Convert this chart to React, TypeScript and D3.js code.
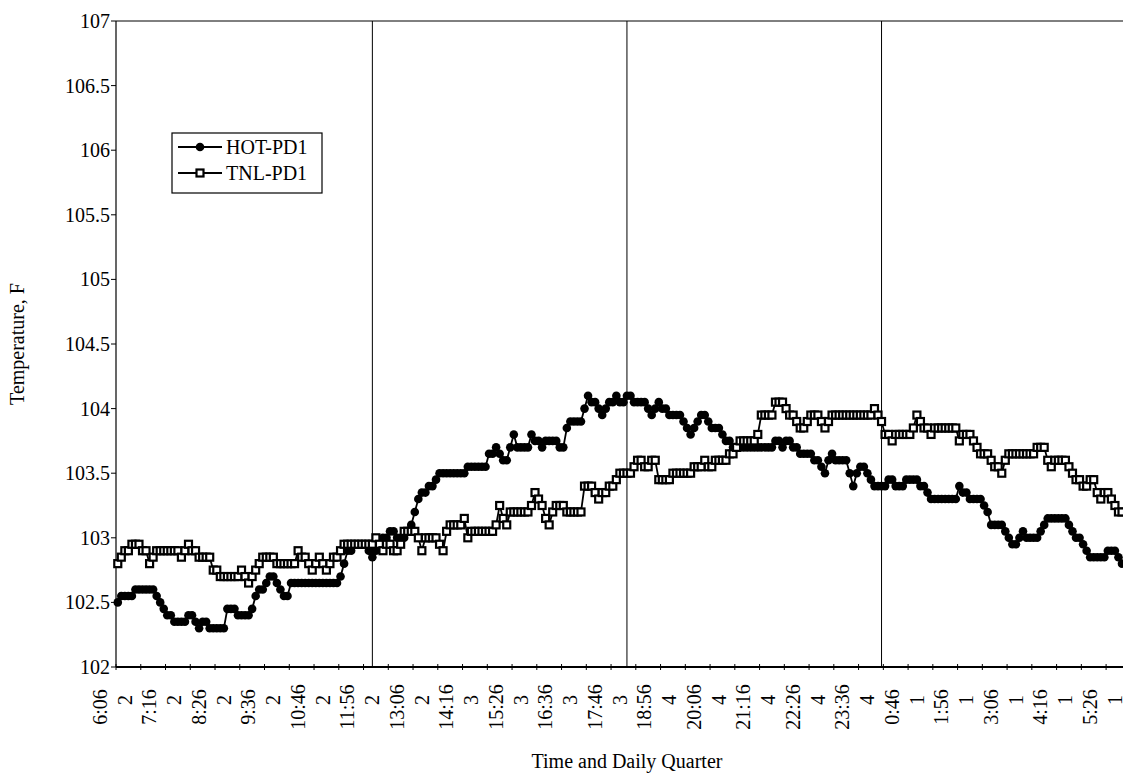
import * as d3 from 'd3'

// category axis: one point every 5 minutes, every 7th category labelled
const tickLabels = [
  '6:06', '2', '7:16', '2', '8:26', '2', '9:36', '2', '10:46', '2', '11:56', '2',
  '13:06', '2', '14:16', '3', '15:26', '3', '16:36', '3', '17:46', '3', '18:56', '4',
  '20:06', '4', '21:16', '4', '22:26', '4', '23:36', '4', '0:46', '1', '1:56', '1',
  '3:06', '1', '4:16', '1', '5:26', '1',
]
const labelStep = 7
const categoryCount = 288
const quarterBreaks = [72, 144, 216]
const yTicks = [102, 102.5, 103, 103.5, 104, 104.5, 105, 105.5, 106, 106.5, 107]

// values (visible part of the chart)
const hotPD1 = [
  102.5, 102.55, 102.55, 102.55, 102.55, 102.6, 102.6, 102.6, 102.6, 102.6,
  102.6, 102.55, 102.5, 102.45, 102.4, 102.4, 102.35, 102.35, 102.35, 102.35,
  102.4, 102.4, 102.35, 102.3, 102.35, 102.35, 102.3, 102.3, 102.3, 102.3,
  102.3, 102.45, 102.45, 102.45, 102.4, 102.4, 102.4, 102.4, 102.45, 102.55,
  102.6, 102.6, 102.65, 102.7, 102.7, 102.65, 102.6, 102.55, 102.55, 102.65,
  102.65, 102.65, 102.65, 102.65, 102.65, 102.65, 102.65, 102.65, 102.65, 102.65,
  102.65, 102.65, 102.65, 102.7, 102.8, 102.9, 102.9, 102.95, 102.95, 102.95,
  102.95, 102.9, 102.85, 102.9, 102.95, 103.0, 103.0, 103.05, 103.05, 103.0,
  103.0, 103.0, 103.05, 103.1, 103.2, 103.3, 103.35, 103.35, 103.4, 103.4,
  103.45, 103.5, 103.5, 103.5, 103.5, 103.5, 103.5, 103.5, 103.5, 103.55,
  103.55, 103.55, 103.55, 103.55, 103.55, 103.65, 103.65, 103.7, 103.65, 103.6,
  103.6, 103.7, 103.8, 103.7, 103.7, 103.7, 103.7, 103.8, 103.75, 103.75,
  103.7, 103.75, 103.75, 103.75, 103.75, 103.7, 103.7, 103.85, 103.9, 103.9,
  103.9, 103.9, 104.0, 104.1, 104.05, 104.05, 104.0, 103.95, 104.0, 104.05,
  104.05, 104.1, 104.05, 104.05, 104.1, 104.1, 104.05, 104.05, 104.05, 104.05,
  104.0, 103.95, 104.0, 104.05, 104.0, 104.0, 103.95, 103.95, 103.95, 103.95,
  103.9, 103.85, 103.8, 103.85, 103.9, 103.95, 103.95, 103.9, 103.85, 103.85,
  103.85, 103.8, 103.75, 103.75, 103.7, 103.7, 103.7, 103.7, 103.7, 103.7,
  103.7, 103.7, 103.7, 103.7, 103.7, 103.7, 103.75, 103.75, 103.7, 103.75,
  103.75, 103.7, 103.7, 103.65, 103.65, 103.65, 103.65, 103.6, 103.6, 103.55,
  103.5, 103.6, 103.65, 103.6, 103.6, 103.6, 103.6, 103.5, 103.4, 103.5,
  103.55, 103.55, 103.5, 103.45, 103.4, 103.4, 103.4, 103.4, 103.45, 103.45,
  103.4, 103.4, 103.4, 103.45, 103.45, 103.45, 103.45, 103.4, 103.4, 103.35,
  103.3, 103.3, 103.3, 103.3, 103.3, 103.3, 103.3, 103.3, 103.4, 103.35,
  103.35, 103.3, 103.3, 103.3, 103.3, 103.25, 103.2, 103.1, 103.1, 103.1,
  103.1, 103.05, 103.0, 102.95, 102.95, 103.0, 103.05, 103.0, 103.0, 103.0,
  103.0, 103.05, 103.1, 103.15, 103.15, 103.15, 103.15, 103.15, 103.15, 103.1,
  103.05, 103.0, 103.0, 102.95, 102.9, 102.85, 102.85, 102.85, 102.85, 102.85,
  102.9, 102.9, 102.9, 102.85, 102.8,
]

const tnlPD1 = [
  102.8, 102.85, 102.9, 102.9, 102.95, 102.95, 102.95, 102.9, 102.9, 102.8,
  102.85, 102.9, 102.9, 102.9, 102.9, 102.9, 102.9, 102.9, 102.85, 102.9,
  102.95, 102.9, 102.9, 102.85, 102.85, 102.85, 102.85, 102.75, 102.75, 102.7,
  102.7, 102.7, 102.7, 102.7, 102.7, 102.75, 102.7, 102.65, 102.7, 102.75,
  102.8, 102.85, 102.85, 102.85, 102.85, 102.8, 102.8, 102.8, 102.8, 102.8,
  102.8, 102.9, 102.85, 102.85, 102.8, 102.75, 102.8, 102.85, 102.8, 102.75,
  102.8, 102.85, 102.85, 102.9, 102.95, 102.95, 102.95, 102.95, 102.95, 102.95,
  102.95, 102.95, 102.95, 103.0, 102.95, 102.9, 102.95, 102.95, 102.9, 102.9,
  102.95, 103.05, 103.05, 103.05, 103.05, 103.0, 102.9, 103.0, 103.0, 103.0,
  103.0, 102.95, 102.9, 103.05, 103.1, 103.1, 103.1, 103.1, 103.15, 103.0,
  103.05, 103.05, 103.05, 103.05, 103.05, 103.05, 103.05, 103.1, 103.25, 103.15,
  103.1, 103.2, 103.2, 103.2, 103.2, 103.2, 103.2, 103.25, 103.35, 103.3,
  103.25, 103.15, 103.1, 103.2, 103.25, 103.25, 103.25, 103.2, 103.2, 103.2,
  103.2, 103.2, 103.4, 103.4, 103.4, 103.35, 103.3, 103.35, 103.35, 103.4,
  103.4, 103.45, 103.5, 103.5, 103.5, 103.5, 103.55, 103.6, 103.6, 103.55,
  103.55, 103.6, 103.6, 103.45, 103.45, 103.45, 103.45, 103.5, 103.5, 103.5,
  103.5, 103.5, 103.5, 103.55, 103.55, 103.55, 103.6, 103.55, 103.55, 103.6,
  103.6, 103.6, 103.6, 103.65, 103.65, 103.7, 103.75, 103.75, 103.75, 103.75,
  103.75, 103.8, 103.95, 103.95, 103.95, 103.95, 104.05, 104.05, 104.05, 104.0,
  103.95, 103.95, 103.9, 103.85, 103.85, 103.9, 103.95, 103.95, 103.95, 103.9,
  103.85, 103.9, 103.95, 103.95, 103.95, 103.95, 103.95, 103.95, 103.95, 103.95,
  103.95, 103.95, 103.95, 103.95, 104.0, 103.95, 103.9, 103.8, 103.8, 103.75,
  103.8, 103.8, 103.8, 103.8, 103.8, 103.85, 103.95, 103.9, 103.85, 103.85,
  103.8, 103.85, 103.85, 103.85, 103.85, 103.85, 103.85, 103.85, 103.75, 103.8,
  103.8, 103.8, 103.75, 103.7, 103.65, 103.65, 103.65, 103.6, 103.55, 103.55,
  103.5, 103.6, 103.65, 103.65, 103.65, 103.65, 103.65, 103.65, 103.65, 103.65,
  103.7, 103.7, 103.7, 103.6, 103.55, 103.6, 103.6, 103.6, 103.6, 103.55,
  103.5, 103.45, 103.45, 103.4, 103.4, 103.45, 103.45, 103.35, 103.3, 103.35,
  103.35, 103.3, 103.25, 103.2, 103.2,
]

const W = 1123
const H = 774
const FONT = '"Liberation Serif", "Times New Roman", serif'

export default function App() {
  const margin = { top: 21, left: 116, bottom: 107 }
  const bottom = H - margin.bottom
  const step = 3.536

  const x = d3
    .scaleBand<number>()
    .domain(d3.range(categoryCount))
    .range([margin.left, margin.left + categoryCount * step])
  const cx = (i: number) => (x(i) as number) + x.bandwidth() / 2

  const y = d3.scaleLinear().domain([102, 107]).range([bottom, margin.top])

  const line = d3
    .line<number>()
    .x((_, i) => cx(i))
    .y(d => y(d))

  const labelIdx = tickLabels.map((_, k) => k * labelStep)
  const sq = 7

  return (
    <svg
      width={W}
      height={H}
      style={{ position: 'absolute', left: 0, top: 0, background: '#fff', display: 'block', fontFamily: FONT }}
    >
      <defs>
        <clipPath id="plot">
          <rect x={margin.left - 6} y={margin.top - 6} width={W - margin.left + 6} height={bottom - margin.top + 12} />
        </clipPath>
      </defs>

      {/* plot frame */}
      <line x1={margin.left} x2={W} y1={margin.top} y2={margin.top} stroke="#000" strokeWidth={1} />
      <line x1={margin.left} x2={margin.left} y1={margin.top} y2={bottom} stroke="#000" strokeWidth={1.2} />
      <line x1={margin.left} x2={W} y1={bottom} y2={bottom} stroke="#000" strokeWidth={2} />

      {/* quarter separators */}
      {quarterBreaks.map(b => (
        <line key={b} x1={cx(b)} x2={cx(b)} y1={margin.top} y2={bottom} stroke="#000" strokeWidth={1} />
      ))}

      {/* y axis */}
      {yTicks.map(t => (
        <g key={t}>
          <line x1={margin.left - 5} x2={margin.left} y1={y(t)} y2={y(t)} stroke="#000" strokeWidth={1} />
          <text x={margin.left - 6} y={y(t)} dy="0.35em" textAnchor="end" fontSize={20}>
            {t}
          </text>
        </g>
      ))}
      <text
        transform={`translate(24, ${(margin.top + bottom) / 2}) rotate(-90)`}
        textAnchor="middle"
        fontSize={20}
      >
        Temperature, F
      </text>

      {/* x axis */}
      {labelIdx.map((i, k) => (
        <g key={k}>
          <line x1={cx(i) - 1.75} x2={cx(i) - 1.75} y1={bottom - 3} y2={bottom + 3} stroke="#000" strokeWidth={1} />
          <text
            transform={`translate(${cx(i) - 18}, ${tickLabels[k].includes(':') ? 707 : 700}) rotate(-90)`}
            textAnchor="middle"
            dy="0.35em"
            fontSize={20}
          >
            {tickLabels[k]}
          </text>
        </g>
      ))}
      <text x={627} y={768} textAnchor="middle" fontSize={20}>
        Time and Daily Quarter
      </text>

      <g clipPath="url(#plot)">
        {/* HOT-PD1 */}
        <path d={line(hotPD1) ?? ''} fill="none" stroke="#000" strokeWidth={1.8} />
        {hotPD1.map((v, i) => (
          <circle key={i} cx={cx(i)} cy={y(v)} r={4.3} fill="#000" />
        ))}
        {/* TNL-PD1 */}
        <path d={line(tnlPD1) ?? ''} fill="none" stroke="#000" strokeWidth={1.8} />
        {tnlPD1.map((v, i) => (
          <rect key={i} x={cx(i) - sq / 2} y={y(v) - sq / 2} width={sq} height={sq} fill="#fff" stroke="#000" strokeWidth={2.2} />
        ))}
      </g>

      {/* legend */}
      <g>
        <rect x={172} y={133} width={150} height={60} fill="#fff" stroke="#000" strokeWidth={1.2} />
        <line x1={178} x2={222} y1={147} y2={147} stroke="#000" strokeWidth={1.8} />
        <circle cx={200} cy={147} r={4.3} fill="#000" />
        <text x={226} y={147} dy="0.35em" fontSize={20}>HOT-PD1</text>
        <line x1={178} x2={222} y1={173} y2={173} stroke="#000" strokeWidth={1.8} />
        <rect x={200 - sq / 2} y={173 - sq / 2} width={sq} height={sq} fill="#fff" stroke="#000" strokeWidth={2.2} />
        <text x={226} y={173} dy="0.35em" fontSize={20}>TNL-PD1</text>
      </g>
    </svg>
  )
}
